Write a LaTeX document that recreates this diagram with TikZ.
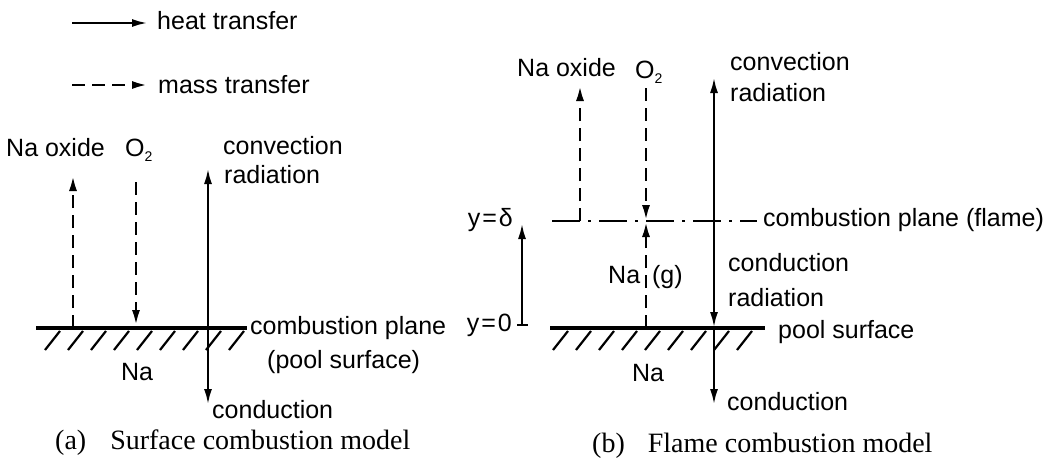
\documentclass[tikz,border=0pt]{standalone}
\usepackage{fontspec}
\setmainfont{Liberation Sans}
\newfontfamily\capfont{Liberation Serif}
\usetikzlibrary{arrows.meta}

\begin{document}
\begin{tikzpicture}[x=1pt,y=-1pt,
    lbl/.style={inner sep=0pt, font=\fontsize{25}{28}\selectfont},
    caption/.style={inner sep=0pt, font=\capfont\fontsize{28}{32}\selectfont},
    heatflow/.style={line width=2.6pt, -{Latex[length=16pt,width=8pt]}},
    massflow/.style={line width=2.8pt, dash pattern=on 13pt off 7pt, -{Latex[length=16pt,width=8pt]}},
    surface/.style={line width=3.5pt},
    hatchline/.style={line width=2.2pt},
    flameline/.style={line width=2.6pt, dash pattern=on 28pt off 8pt on 3pt off 8pt}]
    \useasboundingbox (0,0) rectangle (1052,463);

    % Legend
    \coordinate (hs) at (72,23);
    \coordinate (he) at (148,23);
    \coordinate (ms) at (72,85);
    \coordinate (me) at (148,85);
    \node[lbl, anchor=west] (heat) at (157,21) {heat transfer};
    \node[lbl, anchor=west] (mass) at (158,85) {mass transfer};
    \draw[heatflow] (hs) -- (he);
    \draw[massflow] (ms) -- (me);

    % (a) surface combustion: points
    \coordinate (aL) at (36,328);
    \coordinate (aR) at (247,328);
    \coordinate (aoxbot) at (73,328);
    \coordinate (aoxtop) at (73,175);
    \coordinate (aotop) at (136,182);
    \coordinate (aobot) at (136,326);
    \coordinate (aS) at (208,328);
    \coordinate (atop) at (208,168);
    \coordinate (abot) at (208,405);

    % (a) labels
    \node[lbl, anchor=west] (aoxide) at (6,148) {Na oxide};
    \node[lbl, anchor=west] (aotwo) at (125,150) {O\raisebox{-0.35ex}{\fontsize{14}{14}\selectfont 2}};
    \node[lbl, anchor=west] (aconv) at (223,146) {convection};
    \node[lbl, anchor=west] (arad) at (224,175) {radiation};
    \node[lbl, anchor=west] (aplane) at (250,328) {combustion plane};
    \node[lbl, anchor=west] (apool) at (267,362) {(pool surface)};
    \node[lbl] (ana) at (137,372) {Na};
    \node[lbl, anchor=west] (acond) at (212,410) {conduction};
    \node[caption, anchor=west] (acap) at (55,443) {(a)\hspace{24pt}Surface combustion model};

    % (a) surface and hatching
    \draw[surface] (aL) -- (aR);
    \foreach \hx in {45,68,...,229}
        \draw[hatchline] (\hx,350) -- ++(15,-19);

    % (a) transfers
    \draw[massflow] (aoxbot) -- (aoxtop);
    \draw[massflow] (aotop) -- (aobot);
    \draw[heatflow] (aS) -- (atop);
    \draw[heatflow] (aS) -- (abot);

    % (b) flame combustion: points
    \coordinate (yzero) at (522,325);
    \coordinate (ydelta) at (522,223);
    \coordinate (tl) at (517,325);
    \coordinate (tr) at (528,325);
    \coordinate (bL) at (550,328);
    \coordinate (bR) at (765,328);
    \coordinate (fL) at (552,221);
    \coordinate (fR) at (757,221);
    \coordinate (boxbot) at (580,221);
    \coordinate (boxtop) at (580,85);
    \coordinate (botop) at (646,88);
    \coordinate (bflame) at (646,221);
    \coordinate (bpool) at (646,328);
    \coordinate (bF) at (714,221);
    \coordinate (bP) at (714,328);
    \coordinate (btop) at (714,77);
    \coordinate (bbot) at (714,405);

    % (b) labels
    \node[lbl, anchor=east] (ydel) at (513,220) {y\kern2pt=\kern2pt δ};
    \node[lbl, anchor=east] (yzer) at (512,325) {y\kern2pt=\kern2pt 0};
    \node[lbl, anchor=west] (boxide) at (517,68) {Na oxide};
    \node[lbl, anchor=west] (botwo) at (635,72) {O\raisebox{-0.35ex}{\fontsize{14}{14}\selectfont 2}};
    \node[lbl, anchor=west] (bconv) at (730,62) {convection};
    \node[lbl, anchor=west] (brad) at (730,93) {radiation};
    \node[lbl, anchor=west] (bplane) at (763,220) {combustion plane (flame)};
    \node[lbl, anchor=west] (bgas) at (608,277) {Na\hspace{12pt}(g)};
    \node[lbl, anchor=west] (bcond) at (728,263) {conduction};
    \node[lbl, anchor=west] (brad2) at (728,298) {radiation};
    \node[lbl, anchor=west] (bsurf) at (778,332) {pool surface};
    \node[lbl] (bna) at (648,373) {Na};
    \node[lbl, anchor=west] (bcond2) at (727,402) {conduction};
    \node[caption, anchor=west] (bcap) at (592,446) {(b)\hspace{23pt}Flame combustion model};

    % (b) surface, hatching and flame
    \draw[surface] (bL) -- (bR);
    \foreach \hx in {553,576,...,737}
        \draw[hatchline] (\hx,350) -- ++(15,-19);
    \draw[flameline] (fL) -- (fR);

    % (b) transfers
    \draw[heatflow] (yzero) -- (ydelta);
    \draw[line width=2.6pt] (tl) -- (tr);
    \draw[massflow] (boxbot) -- (boxtop);
    \draw[massflow] (botop) -- (bflame);
    \draw[massflow] (bpool) -- (bflame);
    \draw[heatflow] (bF) -- (btop);
    \draw[heatflow] (bF) -- (bP);
    \draw[heatflow] (bP) -- (bbot);
\end{tikzpicture}
\end{document}
